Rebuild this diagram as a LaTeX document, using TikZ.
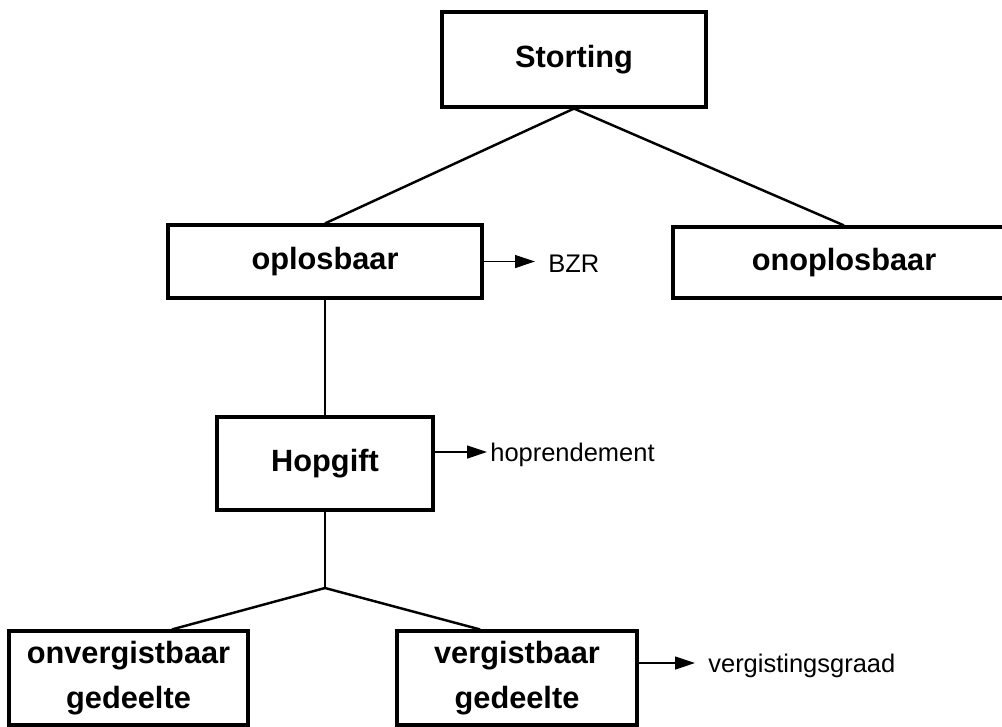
\documentclass[tikz,border=0pt]{standalone}
\usepackage{fontspec}
\setmainfont{Liberation Sans}
\usetikzlibrary{arrows.meta}

\tikzset{
  blok/.style={draw, line width=1.8pt, font=\fontsize{17.5}{25.5}\selectfont\bfseries, align=center, inner sep=0pt},
  tak/.style={line width=1.4pt},
  pijl/.style={line width=0.7pt, -{Triangle[length=0.4cm,width=0.26cm]}},
  uitkomst/.style={font=\fontsize{14.5}{17}\selectfont, anchor=base west, inner sep=0pt},
}

\begin{document}
\begin{tikzpicture}[x=0.02cm, y=-0.02cm]
    \useasboundingbox (0,0) rectangle (1002,727);

    % Blokken
    \node[blok, minimum width=5.28cm, minimum height=1.9cm] (storting) at (574,59.5) {Storting};
    \node[blok, minimum width=6.28cm, minimum height=1.46cm] (oplos) at (325,261.5) {oplosbaar};
    \node[blok, minimum width=6.84cm, minimum height=1.42cm] (onoplos) at (844,262.5) {onoplosbaar};
    \node[blok, minimum width=4.32cm, minimum height=1.86cm] (hopgift) at (325,463.5) {Hopgift};
    \node[blok, minimum width=4.78cm, minimum height=1.88cm] (onverg) at (128.5,678) {onvergistbaar\\gedeelte};
    \node[blok, minimum width=4.8cm, minimum height=1.88cm] (verg) at (517,678) {vergistbaar\\gedeelte};

    % Uitkomsten
    \node[uitkomst] (bzr) at (548,272) {BZR};
    \node[uitkomst] (hopr) at (490,461) {hoprendement};
    \node[uitkomst] (vgraad) at (708,672) {vergistingsgraad};

    % Takken
    \draw[tak] (storting.south) -- (oplos.north);
    \draw[tak] (storting.south) -- (onoplos.north);
    \draw[tak] (oplos.south) -- (hopgift.north);
    \coordinate (splitsing) at (325,588);
    \draw[tak] (hopgift.south) -- (splitsing);
    \draw[tak] (splitsing) -- ([xshift=0.87cm]onverg.north);
    \draw[tak] (splitsing) -- ([xshift=-0.74cm]verg.north);

    % Pijlen
    \draw[pijl, shorten >=0.26cm] (oplos.east) -- (oplos.east -| bzr.west);
    \coordinate (hop_uit) at ([yshift=0.23cm]hopgift.east);
    \draw[pijl, shorten >=0.06cm] (hop_uit) -- (hop_uit -| hopr.west);
    \coordinate (verg_uit) at ([yshift=0.3cm]verg.east);
    \draw[pijl, shorten >=0.26cm] (verg_uit) -- (verg_uit -| vgraad.west);
\end{tikzpicture}
\end{document}
